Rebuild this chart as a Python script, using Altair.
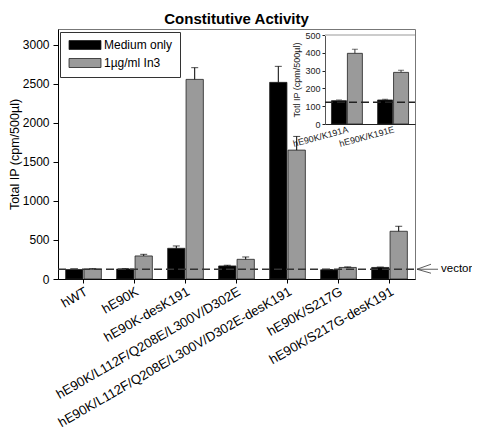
import altair as alt
import pandas as pd

FONT = "Liberation Sans"

categories = [
    "hWT",
    "hE90K",
    "hE90K-desK191",
    "hE90K/L112F/Q208E/L300V/D302E",
    "hE90K/L112F/Q208E/L300V/D302E-desK191",
    "hE90K/S217G",
    "hE90K/S217G-desK191",
]
groups = ["Medium only", "1µg/ml In3"]
medium = [122, 128, 393, 167, 2517, 118, 148]
medium_err = [128, 133, 423, 176, 2722, 122, 153]
in3 = [126, 295, 2555, 252, 1650, 148, 611]
in3_err = [133, 316, 2705, 282, 1825, 155, 675]
vector_level = 125

inset_categories = ["hE90K/K191A", "hE90K/K191E"]
inset_medium = [131, 135]
inset_medium_err = [135, 139]
inset_in3 = [397, 290]
inset_in3_err = [420, 302]
inset_vector = 122

W, H = 357, 250


def make_df(cats, m, me, t, te):
    rows = []
    for i, c in enumerate(cats):
        rows.append({"cat": c, "group": groups[0], "value": m[i], "upper": me[i]})
        rows.append({"cat": c, "group": groups[1], "value": t[i], "upper": te[i]})
    return pd.DataFrame(rows)


df = make_df(categories, medium, medium_err, in3, in3_err)
idf = make_df(inset_categories, inset_medium, inset_medium_err, inset_in3, inset_in3_err)

color_scale = alt.Scale(domain=groups, range=["#000000", "#9a9a9a"])
legend_symbol = "M-3.55,-1 L3.55,-1 L3.55,1 L-3.55,1 Z"

# ---------------- main chart ----------------
x_main = alt.X(
    "cat:N",
    sort=categories,
    scale=alt.Scale(paddingInner=0.3, paddingOuter=0.15),
    axis=alt.Axis(
        title=None, labelAngle=-30, labelAlign="right", labelBaseline="top",
        labelFontSize=13.2, labelColor="black", labelLimit=400, labelPadding=2,
        ticks=True, tickSize=4, tickColor="black", domainColor="black",
    ),
)
xoff_main = alt.XOffset("group:N", sort=groups, scale=alt.Scale(paddingInner=0.06))
y_scale_main = alt.Scale(domain=[0, 3200], nice=False)
y_main = alt.Y(
    "value:Q",
    scale=y_scale_main,
    axis=alt.Axis(
        title="Total IP (cpm/500µl)", titleFontSize=12.5, titleFontWeight="normal",
        titleColor="black", titleX=-37, titleAlign="center",
        values=[0, 500, 1000, 1500, 2000, 2500, 3000], format="d",
        labelFontSize=12, labelColor="black", labelPadding=4,
        tickSize=5, tickColor="black", domainColor="black", grid=False,
    ),
)

base = alt.Chart(df)
bars = base.mark_bar(stroke="#222", strokeWidth=0.8).encode(
    x=x_main,
    xOffset=xoff_main,
    y=y_main,
    color=alt.Color(
        "group:N", sort=groups, scale=color_scale,
        legend=alt.Legend(
            title=None, orient="none", legendX=2, legendY=3,
            strokeColor="#333", fillColor="white", padding=7,
            labelFontSize=12, labelColor="black", labelOffset=13,
            symbolType=legend_symbol, symbolSize=81, symbolOffset=12,
            symbolStrokeColor="#222", symbolStrokeWidth=0.8, rowPadding=4,
        ),
    ),
)
err = base.mark_rule(color="black", strokeWidth=1).encode(
    x=alt.X("cat:N", sort=categories), xOffset=alt.XOffset("group:N", sort=groups),
    y="value:Q", y2="upper:Q",
)
cap = base.mark_tick(color="black", size=7, thickness=1).encode(
    x=alt.X("cat:N", sort=categories), xOffset=alt.XOffset("group:N", sort=groups),
    y="upper:Q",
)
vec = alt.Chart(pd.DataFrame({"v": [vector_level]})).mark_rule(
    strokeDash=[8, 4], color="#333", strokeWidth=1.5
).encode(y="v:Q", x=alt.value(0), x2=alt.value(W + 1))

arrow_df = pd.DataFrame({"v": [vector_level]})
arrow_up = alt.Chart(arrow_df).mark_rule(color="#333", strokeWidth=0.8).encode(
    x=alt.value(W + 2), x2=alt.value(W + 16), y="v:Q", y2=alt.datum(vector_level + 64)
)
arrow_dn = alt.Chart(arrow_df).mark_rule(color="#333", strokeWidth=0.8).encode(
    x=alt.value(W + 2), x2=alt.value(W + 16), y="v:Q", y2=alt.datum(vector_level - 51)
)
arrow_mid = alt.Chart(arrow_df).mark_rule(color="#333", strokeWidth=0.8).encode(
    x=alt.value(W + 2), x2=alt.value(W + 23), y="v:Q"
)
vec_text = alt.Chart(arrow_df).mark_text(
    align="left", baseline="middle", fontSize=11.5, font=FONT, color="black"
).encode(x=alt.value(W + 26), y="v:Q", text=alt.value("vector"))

main = alt.layer(bars, err, cap, vec, arrow_up, arrow_dn, arrow_mid, vec_text)

# ---------------- inset ----------------
ix = alt.X(
    "cat:N",
    sort=inset_categories,
    scale=alt.Scale(range=[267, 357], paddingInner=0.33, paddingOuter=0.14),
    axis=alt.Axis(
        orient="bottom", offset=-155, title=None, labelAngle=-15,
        labelAlign="right", labelBaseline="top", labelFontSize=9,
        labelColor="#222", labelPadding=1, ticks=False, domainColor="#222",
    ),
)
ixoff = alt.XOffset("group:N", sort=groups, scale=alt.Scale(paddingInner=0.06))
iy = alt.Y(
    "value:Q",
    scale=alt.Scale(domain=[0, 500], range=[95, 6], nice=False),
    axis=alt.Axis(
        orient="left", offset=-267, title="Totl IP (cpm/500µl)", titleFontSize=9,
        titleFontWeight="normal", titleColor="#222", titlePadding=3,
        values=[0, 100, 200, 300, 400, 500], format="d",
        labelFontSize=9, labelColor="#222", labelPadding=2,
        tickSize=3, tickColor="#222", domainColor="#555", grid=False,
    ),
)
ibase = alt.Chart(idf)
ibars = ibase.mark_bar(stroke="#222", strokeWidth=0.8).encode(
    x=ix, xOffset=ixoff, y=iy,
    color=alt.Color("group:N", sort=groups, scale=color_scale, legend=None),
)
ierr = ibase.mark_rule(color="#333", strokeWidth=1).encode(
    x=alt.X("cat:N", sort=inset_categories), xOffset=alt.XOffset("group:N", sort=groups),
    y="value:Q", y2="upper:Q",
)
icap = ibase.mark_tick(color="#333", size=6, thickness=1).encode(
    x=alt.X("cat:N", sort=inset_categories), xOffset=alt.XOffset("group:N", sort=groups),
    y="upper:Q",
)
ivec = alt.Chart(pd.DataFrame({"v": [inset_vector]})).mark_rule(
    strokeDash=[8, 4], color="#222", strokeWidth=1.5
).encode(y="v:Q", x=alt.value(267), x2=alt.value(W))
itop = alt.Chart(pd.DataFrame({"v": [500]})).mark_rule(
    color="#cccccc", strokeWidth=2
).encode(y="v:Q", x=alt.value(267), x2=alt.value(W))

inset = alt.layer(ibars, ierr, icap, ivec, itop)

chart = (
    alt.layer(main, inset)
    .resolve_scale(x="independent", y="independent", xOffset="independent")
    .properties(
        width=W,
        height=H,
        padding={"left": 50, "top": 21, "right": 57, "bottom": 150},
        autosize=alt.AutoSizeParams(type="none"),
        title=alt.TitleParams(
            "Constitutive Activity", fontSize=15, fontWeight="bold",
            font=FONT, anchor="middle", offset=2, color="black",
        ),
    )
    .configure(font=FONT)
    .configure_view(stroke="#777", strokeWidth=1)
)

chart.save("out.html", embed_options={"renderer": "svg", "actions": False})
